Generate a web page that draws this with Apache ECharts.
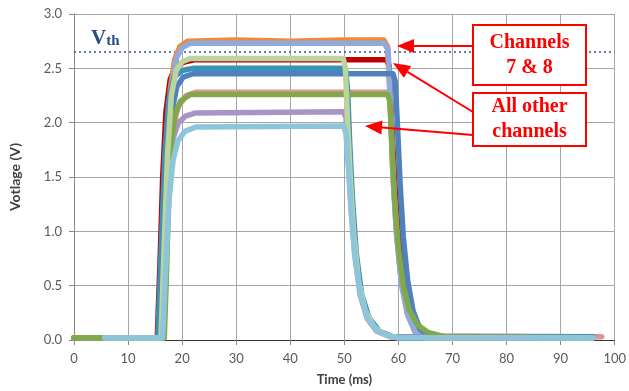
<!DOCTYPE html>
<html>
<head>
<meta charset="utf-8">
<script src="https://cdn.jsdelivr.net/npm/echarts@6/dist/echarts.min.js"></script>
<style>
  html, body { margin: 0; padding: 0; background: #fff; }
  #chart { width: 629px; height: 391px; }
</style>
</head>
<body>
<div id="chart"></div>
<script>
// axis ticks
const xTicks = { min: 0, max: 100, step: 10 };
const yTicks = { min: 0, max: 3, step: 0.5 };
const vth = 2.65;

// channel traces, [time ms, volts]
const pink = [[0,0.02],[16.5,0.02],[17,0.8],[17.6,1.5],[18.3,1.95],[19.3,2.15],[20.8,2.25],[22.5,2.28],[58.2,2.28],[58.6,2.2],[59.1,1.7],[59.8,1.1],[60.6,0.6],[61.6,0.3],[63,0.12],[64.8,0.04],[97.6,0.03]];
const red = [[0,0.02],[15.4,0.02],[15.9,0.7],[16.4,1.5],[17,2.1],[17.8,2.4],[18.8,2.52],[20.5,2.56],[22.5,2.58],[57.8,2.58],[58.3,2.52],[58.7,2.0],[59.3,1.45],[60,0.95],[60.9,0.55],[62,0.27],[63.2,0.12],[64.5,0.04],[66,0.02],[96,0.02]];
const orange = [[0,0.02],[16.0,0.02],[16.6,0.8],[17.2,1.7],[17.8,2.3],[18.6,2.58],[19.6,2.7],[21,2.75],[30,2.76],[40,2.75],[50,2.76],[57.3,2.76],[58.0,2.7],[58.4,2.3],[58.9,1.6],[59.6,1.0],[60.5,0.55],[61.6,0.25],[63,0.08],[65,0.02],[96,0.02]];
const periwinkle = [[0,0.02],[16.2,0.02],[16.8,0.9],[17.4,1.8],[18.1,2.35],[19,2.6],[20,2.69],[21.5,2.73],[57.4,2.73],[58.1,2.67],[58.5,2.2],[59,1.5],[59.7,0.95],[60.6,0.5],[61.8,0.22],[63.2,0.07],[65,0.02],[96,0.02]];
const blue = [[0,0.02],[16.1,0.02],[16.7,0.8],[17.4,1.6],[18.1,2.1],[19,2.33],[20.2,2.42],[22,2.45],[59,2.45],[59.4,2.38],[59.8,2.0],[60.3,1.45],[60.9,0.95],[61.7,0.55],[62.7,0.27],[64,0.1],[66,0.03],[96,0.02]];
const teal = [[0,0.02],[15.5,0.02],[16.1,0.8],[16.8,1.7],[17.5,2.2],[18.5,2.42],[20,2.48],[22,2.5],[50.2,2.5],[50.6,2.3],[51,1.8],[51.5,1.3],[52.2,0.8],[53.2,0.42],[54.6,0.2],[56.5,0.08],[59,0.03],[96,0.03]];
const green = [[0,0.02],[16.7,0.02],[17.1,0.6],[17.5,1.3],[18,1.8],[18.7,2.08],[19.7,2.2],[21.5,2.26],[58,2.26],[58.4,2.2],[58.8,1.8],[59.3,1.3],[60,0.85],[60.9,0.5],[62,0.28],[63.5,0.14],[65.5,0.07],[68.5,0.03],[96,0.02]];
const purple = [[0,0.02],[16.3,0.02],[16.9,0.8],[17.5,1.5],[18.3,1.85],[19.3,2.0],[20.6,2.06],[22.5,2.09],[49.8,2.1],[50.3,2.05],[50.7,1.7],[51.2,1.25],[51.9,0.8],[52.9,0.42],[54.2,0.2],[56,0.08],[58.5,0.03],[96,0.02]];
const lightGreen = [[5.7,0.02],[16.1,0.02],[16.7,0.9],[17.3,1.7],[18,2.25],[18.9,2.48],[20,2.56],[21.5,2.59],[49.8,2.59],[50.2,2.5],[50.6,2.0],[51.1,1.5],[51.7,1.0],[52.6,0.55],[53.8,0.28],[55.5,0.12],[57.5,0.05],[60,0.02],[96,0.02]];
const lightBlue = [[5.7,0.02],[16.4,0.02],[17,0.7],[17.6,1.3],[18.3,1.65],[19.2,1.83],[20.5,1.92],[22.5,1.96],[49.9,1.97],[50.3,1.9],[50.8,1.55],[51.3,1.15],[52,0.75],[53,0.42],[54.3,0.2],[56.2,0.08],[58.5,0.03],[60,0.02],[96,0.02]];

// bottom to top drawing order
const traces = [
  { data: pink, color: '#DA9694' },
  { data: red, color: '#C00000' },
  { data: orange, color: '#EE8B3A' },
  { data: periwinkle, color: '#8FAADC' },
  { data: blue, color: '#4F81BD' },
  { data: teal, color: '#3D91B3' },
  { data: purple, color: '#A696C8' },
  { data: green, color: '#82A84C' },
  { data: lightGreen, color: '#BBD59C' },
  { data: lightBlue, color: '#8DC5DA' }
];

const RED = '#FF0000';

function arrow(x1, y1, x2, y2) {
  // tail (x1,y1) -> tip (x2,y2)
  const dx = x2 - x1, dy = y2 - y1;
  const len = Math.sqrt(dx * dx + dy * dy);
  const ux = dx / len, uy = dy / len;
  const bx = x2 - ux * 17, by = y2 - uy * 17;
  const nx = -uy * 7, ny = ux * 7;
  return [
    { type: 'line', shape: { x1: x1, y1: y1, x2: bx, y2: by }, style: { stroke: RED, lineWidth: 2 }, z: 100 },
    { type: 'polygon', shape: { points: [[x2, y2], [bx + nx, by + ny], [bx - nx, by - ny]] }, style: { fill: RED }, z: 100 }
  ];
}

function box(x, y, w, h, text) {
  return [
    { type: 'rect', shape: { x: x, y: y, width: w, height: h }, style: { fill: '#fff', stroke: RED, lineWidth: 2 }, z: 100 },
    {
      type: 'text', x: x + w / 2, y: y + h / 2, z: 101,
      style: {
        text: text, fill: RED, align: 'center', verticalAlign: 'middle',
        font: 'bold 20px "Liberation Serif", serif', lineHeight: 25
      }
    }
  ];
}

const chart = echarts.init(document.getElementById('chart'));

const series = [{
  type: 'line',
  data: [[xTicks.min, vth], [xTicks.max, vth]],
  showSymbol: false,
  silent: true,
  lineStyle: { color: '#2F5496', width: 1.6, type: [2, 3] },
  z: 1
}];
traces.forEach(function (t) {
  series.push({
    type: 'line',
    data: t.data,
    showSymbol: false,
    lineStyle: { color: t.color, width: 5.5, cap: 'round', join: 'round' },
    z: 2
  });
});

chart.setOption({
  animation: false,
  grid: { left: 74, right: 8, top: 14, bottom: 49 },
  xAxis: {
    type: 'value', min: xTicks.min, max: xTicks.max, interval: xTicks.step,
    name: 'Time (ms)', nameLocation: 'middle', nameGap: 33,
    nameTextStyle: { fontFamily: 'Lato', fontWeight: 'bold', fontSize: 13, color: '#404040' },
    axisLine: { onZero: false, lineStyle: { color: '#333', width: 1 } },
    axisTick: { show: true, length: 5, lineStyle: { color: '#888' } },
    axisLabel: { fontFamily: 'Lato', fontSize: 13, color: '#595959', margin: 12 },
    splitLine: { show: true, lineStyle: { color: '#A6A6A6', width: 1 } }
  },
  yAxis: {
    type: 'value', min: yTicks.min, max: yTicks.max, interval: yTicks.step,
    name: 'Votlage (V)', nameLocation: 'middle', nameGap: 52,
    nameTextStyle: { fontFamily: 'Lato', fontWeight: 'bold', fontSize: 14, color: '#404040' },
    axisLine: { show: true, lineStyle: { color: '#888', width: 1 } },
    axisTick: { show: true, length: 5, lineStyle: { color: '#888' } },
    axisLabel: {
      fontFamily: 'Lato', fontSize: 13, color: '#595959', margin: 12,
      formatter: function (v) { return v.toFixed(1); }
    },
    splitLine: { show: true, lineStyle: { color: '#A6A6A6', width: 1 } }
  },
  series: series,
  graphic: [
    {
      type: 'text', left: 91, top: 28, z: 100,
      style: {
        text: '{v|V}{t|th}',
        rich: {
          v: { font: 'bold 21px "Liberation Serif", serif', fill: '#2B4C7E' },
          t: { font: 'bold 15px "Liberation Serif", serif', fill: '#2B4C7E', padding: [5, 0, 0, 0] }
        }
      }
    }
  ]
    .concat(box(473, 25, 113, 60, 'Channels\n7 & 8'))
    .concat(box(473, 93, 113, 53, 'All other\nchannels'))
    .concat(arrow(473, 46, 397, 46))
    .concat(arrow(473, 112, 393, 63))
    .concat(arrow(473, 135, 365, 126))
});
</script>
</body>
</html>
